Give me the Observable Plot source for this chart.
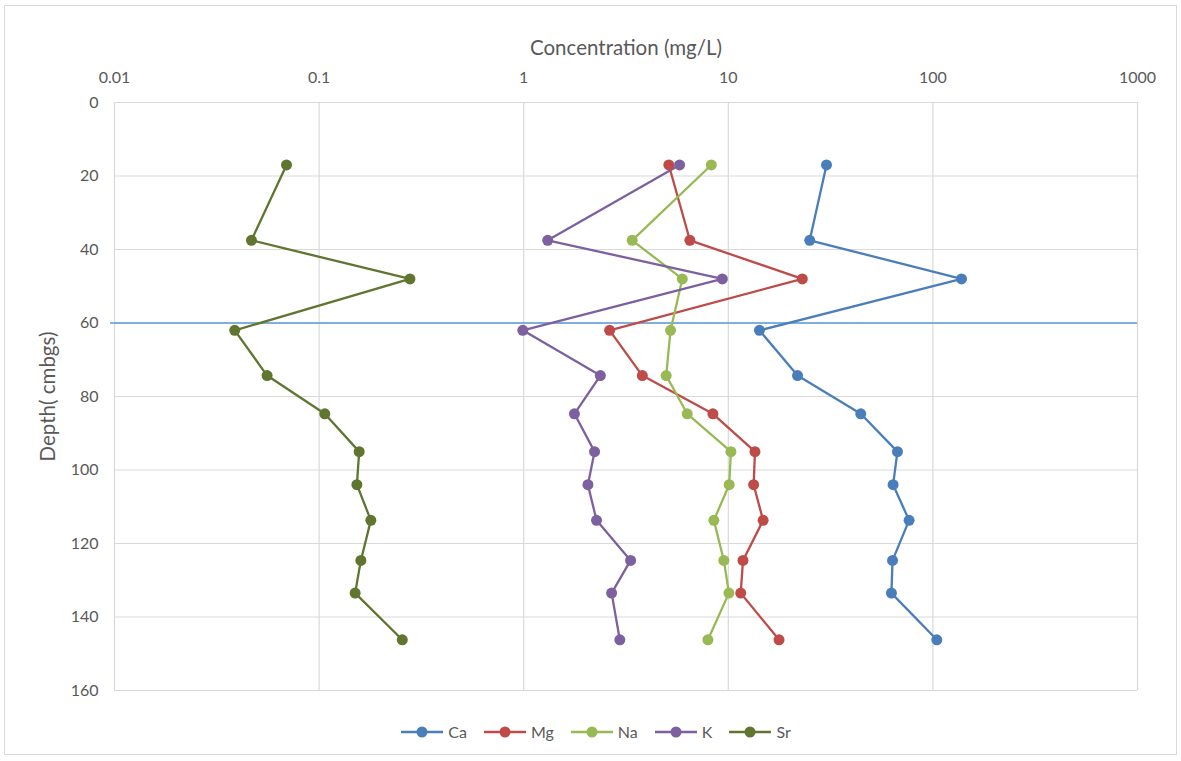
<!DOCTYPE html>
<html>
<head>
<meta charset="utf-8">
<script src="https://cdn.jsdelivr.net/npm/d3@7"></script>
<script src="https://cdn.jsdelivr.net/npm/@observablehq/plot@0.6"></script>
<style>
  html, body { margin: 0; padding: 0; background: #fff; }
  body { width: 1181px; height: 761px; position: relative; overflow: hidden; font-family: Lato, "Open Sans", sans-serif; }
  #frame { position: absolute; left: 4px; top: 5px; width: 1171px; height: 748px; border: 1px solid #d9d9d9; }
  #chart { position: absolute; left: 0; top: 0; }
  #legend { position: absolute; left: 0; top: 722px; width: 1181px; display: flex; justify-content: center; gap: 16px; font-size: 16px; color: #595959; padding-left: 10px; box-sizing: border-box; }
  #legend .item { display: flex; align-items: center; gap: 4px; }
</style>
</head>
<body>
<div id="frame"></div>
<div id="chart"></div>
<div id="legend"></div>
<script>
const seriesNames = ["Ca", "Mg", "Na", "K", "Sr"];
const seriesColors = ["#4a7ebb", "#be4b48", "#98b954", "#7d60a0", "#5f7530"];
const depths = [17, 37.5, 48, 62, 74.3, 84.7, 95, 104, 113.7, 124.6, 133.5, 146.2];
const ca = [30.2, 25.0, 138, 14.2, 21.8, 44.4, 67.1, 63.9, 76.5, 63.5, 62.7, 104.5];
const mg = [5.12, 6.49, 23.0, 2.63, 3.80, 8.41, 13.5, 13.3, 14.8, 11.8, 11.5, 17.7];
const na = [8.26, 3.39, 5.96, 5.22, 4.97, 6.30, 10.3, 10.1, 8.50, 9.51, 10.07, 7.95];
const k  = [5.78, 1.31, 9.35, 0.99, 2.37, 1.77, 2.22, 2.06, 2.27, 3.33, 2.69, 2.95];
const sr = [0.0693, 0.0467, 0.278, 0.0387, 0.0557, 0.1066, 0.157, 0.153, 0.179, 0.160, 0.150, 0.255];
const xTicks = [0.01, 0.1, 1, 10, 100, 1000];
const xTickLabels = ["0.01", "0.1", "1", "10", "100", "1000"];
const yTicks = [0, 20, 40, 60, 80, 100, 120, 140, 160];
const markerDepth = [60];
const xTitle = "Concentration (mg/L)";
const yTitle = "Depth( cmbgs)";

const valuesBySeries = [ca, mg, na, k, sr];
const rows = [];
seriesNames.forEach((s, i) => {
  depths.forEach((d, j) => rows.push({series: s, depth: d, value: valuesBySeries[i][j]}));
});

const chart = Plot.plot({
  width: 1181,
  height: 700,
  marginLeft: 114,
  marginRight: 44,
  marginTop: 102,
  marginBottom: 10,
  style: {fontFamily: "Lato, 'Open Sans', sans-serif", fontSize: "16px", color: "#595959", background: "transparent"},
  x: {type: "log", domain: [0.01, 1000]},
  y: {domain: [0, 160], reverse: true},
  color: {domain: seriesNames, range: seriesColors},
  marks: [
    Plot.gridX(xTicks, {stroke: "#d9d9d9", strokeOpacity: 1, strokeWidth: 1.2}),
    Plot.gridY(yTicks, {stroke: "#d9d9d9", strokeOpacity: 1, strokeWidth: 1.2}),
    Plot.axisX(xTicks, {anchor: "top", tickSize: 0, tickPadding: 20, tickFormat: (d) => xTickLabels[xTicks.indexOf(d)], label: null, fill: "#595959", fontSize: 16}),
    Plot.axisY(yTicks, {anchor: "left", tickSize: 0, tickPadding: 16, label: null, fill: "#595959", fontSize: 16}),
    Plot.text([xTitle], {frameAnchor: "top", dy: -62, text: (d) => d, fill: "#595959", fontSize: 20.5}),
    Plot.text([yTitle], {frameAnchor: "left", dx: -66, rotate: -90, textAnchor: "middle", text: (d) => d, fill: "#595959", fontSize: 20.5}),
    Plot.ruleY(markerDepth, {stroke: "#5b9bd5", strokeWidth: 1.3, insetLeft: -4}),
    Plot.line(rows, {x: "value", y: "depth", z: "series", stroke: "series", strokeWidth: 2.3}),
    Plot.dot(rows, {x: "value", y: "depth", fill: "series", r: 5.5, stroke: "none"})
  ]
});
document.getElementById("chart").appendChild(chart);

const legend = document.getElementById("legend");
seriesNames.forEach((s, i) => {
  const item = document.createElement("div");
  item.className = "item";
  item.innerHTML = `<svg width="44" height="12"><line x1="1" x2="43" y1="6" y2="6" stroke="${seriesColors[i]}" stroke-width="2.3"/><circle cx="22" cy="6" r="5.5" fill="${seriesColors[i]}"/></svg><span>${s}</span>`;
  legend.appendChild(item);
});
</script>
</body>
</html>
